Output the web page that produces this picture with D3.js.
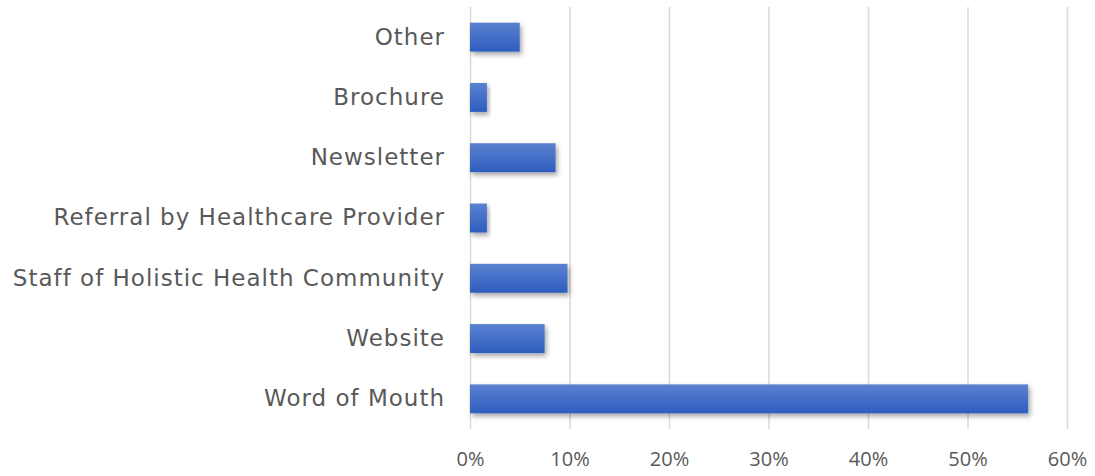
<!DOCTYPE html>
<meta charset="utf-8">
<head>
    <title>Sources</title>
    <style>
        body { margin: 0; background: #fff; }
        .grid line { stroke: #d9d9d9; stroke-width: 1.5px; }
        .grid path { display: none; }
        .axis path, .axis line { display: none; }
        .axis text { fill: #595959; }
        .x text { font-family: "Open Sans", sans-serif; }
        .y text { font-family: "DejaVu Sans", sans-serif; letter-spacing: 1px; }
    </style>
</head>
<body>
<svg width="1095" height="476"></svg>
<script src="https://d3js.org/d3.v7.min.js"></script>
<script>
    var categories = ["Other", "Brochure", "Newsletter", "Referral by Healthcare Provider",
        "Staff of Holistic Health Community", "Website", "Word of Mouth"];
    var values = [5.0, 1.7, 8.6, 1.7, 9.8, 7.5, 56.1];
    var tickValues = [0, 10, 20, 30, 40, 50, 60];

    var svg = d3.select("svg"),
        margin = {top: 7, right: 28, bottom: 47, left: 470},
        width = +svg.attr("width") - margin.left - margin.right,
        height = +svg.attr("height") - margin.top - margin.bottom;

    var data = categories.map(function(c, i) { return {name: c, value: values[i]}; });

    var x = d3.scaleLinear().domain([0, 60]).range([0, width]);
    var y = d3.scaleBand().domain(categories).range([0, height]).paddingInner(0.52).paddingOuter(0.26);

    var defs = svg.append("defs");
    var grad = defs.append("linearGradient").attr("id", "barGrad")
        .attr("x1", 0).attr("y1", 0).attr("x2", 0).attr("y2", 1);
    grad.append("stop").attr("offset", "0%").attr("stop-color", "#5b80d0");
    grad.append("stop").attr("offset", "100%").attr("stop-color", "#2e5ebf");

    var shadow = defs.append("filter").attr("id", "shadow")
        .attr("x", "-10%").attr("y", "-20%").attr("width", "130%").attr("height", "160%");
    shadow.append("feDropShadow").attr("dx", 2).attr("dy", 3).attr("stdDeviation", 2.5)
        .attr("flood-color", "#000").attr("flood-opacity", 0.35);

    var g = svg.append("g").attr("transform", "translate(" + margin.left + "," + margin.top + ")");

    g.append("g")
        .attr("class", "grid")
        .call(d3.axisBottom(x).tickValues(tickValues).tickSize(height).tickFormat(""));

    g.selectAll(".bar")
        .data(data)
        .enter().append("rect")
        .attr("class", "bar")
        .attr("x", 0)
        .attr("y", function(d) { return y(d.name); })
        .attr("height", y.bandwidth())
        .attr("width", function(d) { return x(d.value); })
        .attr("fill", "url(#barGrad)")
        .attr("filter", "url(#shadow)");

    g.append("g")
        .attr("class", "x axis")
        .attr("transform", "translate(0," + height + ")")
        .call(d3.axisBottom(x).tickValues(tickValues).tickSize(0).tickPadding(23)
            .tickFormat(function(d) { return d + "%"; }))
        .selectAll("text").style("font-size", "20px");

    g.append("g")
        .attr("class", "y axis")
        .call(d3.axisLeft(y).tickSize(0).tickPadding(25))
        .selectAll("text").style("font-size", "23px");
</script>
</body>
